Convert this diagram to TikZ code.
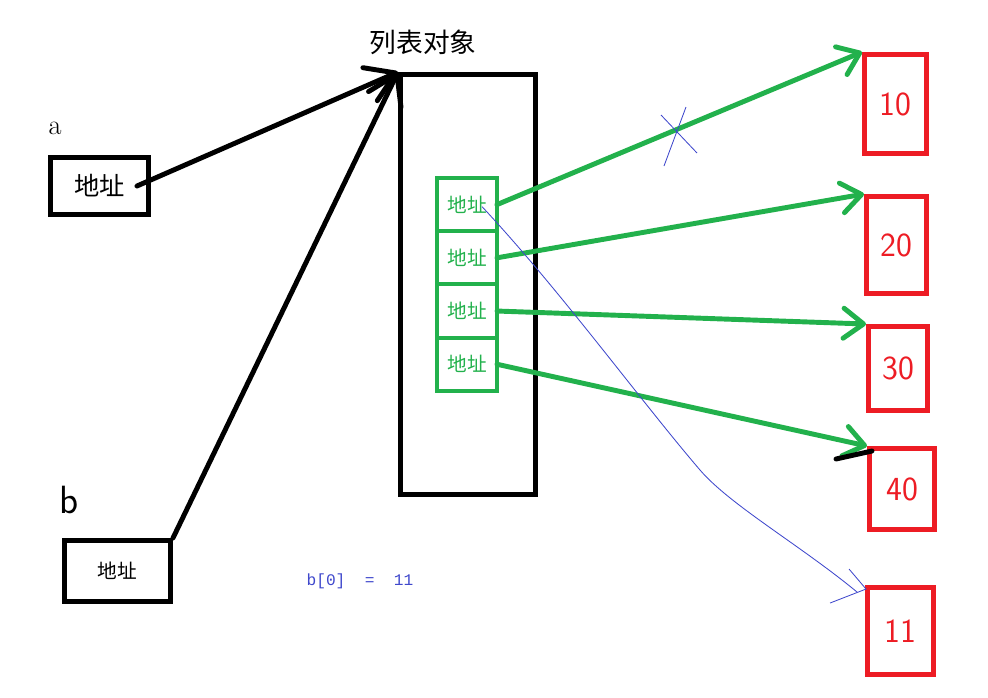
\documentclass[tikz,border=0pt]{standalone}
\usepackage{fontspec}
\newfontfamily\cjk{Noto Sans CJK SC}
\setmonofont{Liberation Mono}
\usetikzlibrary{positioning,arrows.meta}
\definecolor{pgreen}{RGB}{34,177,76}
\definecolor{pred}{RGB}{237,28,36}
\definecolor{pblue}{RGB}{63,72,204}
\tikzset{
  addr/.style={draw=black,line width=3.5pt,inner sep=0pt},
  lst/.style={draw=black,line width=3.5pt,minimum width=3.375cm,minimum height=10.5cm,inner sep=0pt},
  cell/.style={draw=pgreen,line width=2.8pt,text=pgreen,font=\cjk\fontsize{14}{14}\selectfont,
    minimum width=1.5cm,minimum height=1.33cm,inner sep=0pt,outer sep=0pt},
  val/.style={draw=pred,line width=3.5pt,text=pred,font=\sffamily\fontsize{24}{24}\selectfont,inner sep=0pt},
  ptr/.style={line width=3.5pt,line cap=round,-{Straight Barb[round,length=0.7cm,width=0.9cm]}},
  gptr/.style={ptr,draw=pgreen,-{Straight Barb[round,length=0.5cm,width=0.75cm]}},
  bpen/.style={draw=pblue,line width=0.6pt},
}

\begin{document}
\begin{tikzpicture}[x=0.025cm,y=-0.025cm]
  \useasboundingbox (0,0) rectangle (988,698);
  % variables
  \node[font=\fontsize{20}{20}\selectfont] (la) at (55,128) {a};
  \node[addr,minimum width=2.45cm,minimum height=1.425cm,font=\cjk\fontsize{18}{18}\selectfont] (a) at (99.5,186) {地址\hspace{0.5cm}};
  \node[font=\sffamily\fontsize{28}{28}\selectfont] (lb) at (69,500) {b};
  \node[addr,minimum width=2.65cm,minimum height=1.525cm,font=\cjk\fontsize{14}{14}\selectfont] (b) at (117.5,571) {地址\hspace{0.68cm}};
  % list object
  \node[font=\cjk\fontsize{19}{19}\selectfont] (title) at (423,42) {列表对象};
  \node[lst] (lst) at (468,284.5) {};
  \node[cell] (c1) at (467,204.6) {地址};
  \node[cell,below=0pt of c1] (c2) {地址};
  \node[cell,below=0pt of c2] (c3) {地址};
  \node[cell,below=0pt of c3] (c4) {地址};
  % values
  \foreach \n/\x/\y/\w/\h in {10/895.5/104/1.55/2.475, 20/896.5/245/1.5/2.425,
      30/898/368.5/1.475/2.1, 40/902/489/1.625/2.025, 11/900.5/631/1.65/2.175}
    \node[val,minimum width=\w cm,minimum height=\h cm] (v\n) at (\x,\y) {\n};
  % references
  \draw[ptr] ([xshift=-0.35cm]a.east) -- (lst.north west);
  \draw[ptr] (b.north east) -- (lst.north west);
  \foreach \i/\n in {1/10,2/20,3/30,4/40}
    \draw[gptr] (c\i.east) -- (v\n.north west);
  \draw[line width=3.5pt,line cap=round] (836,459) -- ++(36,-8);
  % b[0] = 11
  \draw[bpen] (661,115) -- (697,153) (686,107) -- (664,166);
  \draw[bpen] ([shift={(15,2)}]c1.center) .. controls (560,290) and (640,400) .. (700,470)
    .. controls (730,505) and (800,545) .. ([shift={(-8,7)}]v11.north west);
  \draw[bpen] (v11.north west) ++(-16,-16) -- ++(17,20) -- ++(-36,14);
  \node[text=pblue,font=\ttfamily\fontsize{11.5}{11.5}\selectfont] (eq) at (360,581) {b[0]\ \ =\ \ 11};
\end{tikzpicture}
\end{document}
